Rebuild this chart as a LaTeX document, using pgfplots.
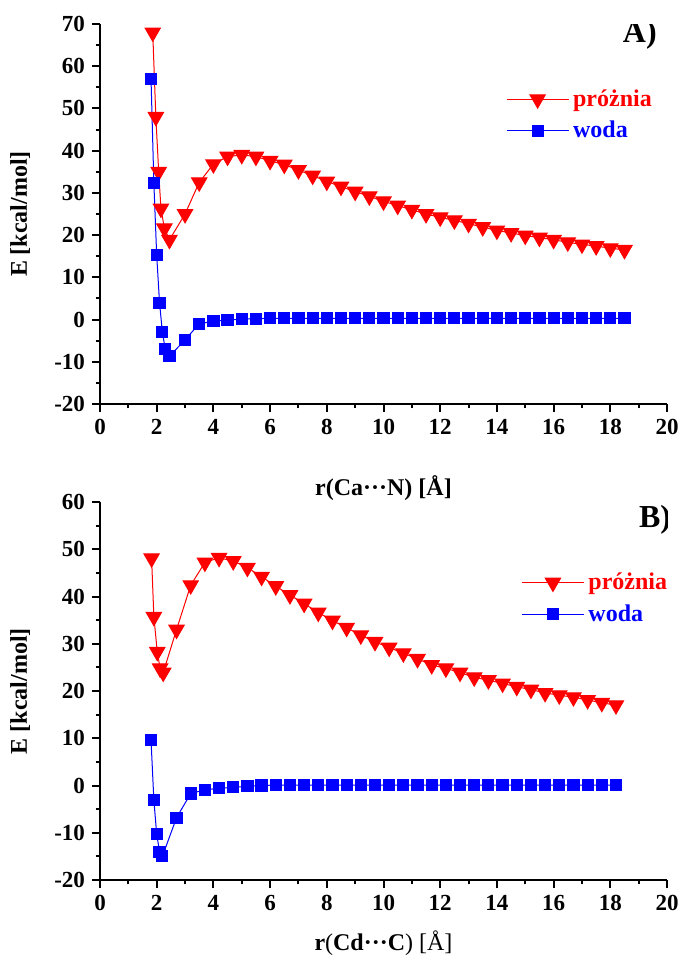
\documentclass[border=0pt]{standalone}
\usepackage{fontspec}
\setmainfont{Liberation Serif}
\usepackage{pgfplots}
\pgfplotsset{compat=1.18}

\pgfplotsset{
  panel/.style={
    scale only axis, width=283.5pt,
    xmin=0, xmax=20, ymin=-20,
    axis x line*=bottom, axis y line*=left,
    axis line style={line width=1.1pt},
    tick align=outside,
    major tick length=4pt, minor tick length=2.2pt,
    every tick/.style={line width=1pt, black},
    xtick distance=2, minor x tick num=1,
    ytick distance=10, minor y tick num=1,
    tick label style={font=\fontsize{11.5}{13}\selectfont\bfseries},
    /pgf/number format/assume math mode=true,
    label style={font=\fontsize{12}{14}\selectfont\bfseries},
    ylabel={E [kcal/mol]},
    ylabel style={at={(rel axis cs:-0.141,0.5)}, anchor=center},
    legend style={draw=none, fill=none, font=\fontsize{12}{14}\selectfont\bfseries,
      row sep=2pt, anchor=north west},
    legend cell align=left,
    legend image code/.code={\draw[mark repeat=2,mark phase=2]
      plot coordinates {(0pt,0pt)(15.5pt,0pt)(31pt,0pt)};},
  },
  vac/.style={red, line width=0.5pt, mark=triangle*, mark size=4.4pt,
    mark options={rotate=180, solid}},
  wat/.style={blue, line width=0.5pt, mark=square*, mark size=2.8pt},
}

\begin{document}
\begin{tikzpicture}
\useasboundingbox (-50pt,-279.5pt) rectangle (294pt,202pt);

% A) Ca...N
\begin{axis}[panel, at={(0,0)}, height=190pt, ymax=70,
  xlabel={r(Ca···N) [Å]},
  xlabel style={at={(rel axis cs:0.5,0)}, anchor=center, yshift=-42pt},
  legend style={at={(rel axis cs:0.705,0.85)}}]
\addplot[vac] coordinates {
(1.86,68) (1.97,48) (2.07,35) (2.15,26.3) (2.27,21.6) (2.45,18.9)
(3.0,25.0) (3.5,32.5) (4.0,36.8) (4.5,38.6) (5.0,39.0) (5.5,38.6)
(6.0,37.6) (6.5,36.7) (7.0,35.4) (7.5,34.1) (8.0,32.7) (8.5,31.5)
(9.0,30.3) (9.5,29.2) (10.0,28.0) (10.5,27.0) (11.0,26.0) (11.5,25.0)
(12.0,24.2) (12.5,23.5) (13.0,22.7) (13.5,21.9) (14.0,21.1) (14.5,20.5)
(15.0,19.9) (15.5,19.4) (16.0,18.9) (16.5,18.3) (17.0,17.8) (17.5,17.4)
(18.0,16.9) (18.5,16.5)
};
\addlegendentry{\textcolor{red}{próżnia}}
\addplot[wat] coordinates {
(1.8,57) (1.9,32.3) (2.0,15.2) (2.1,4.0) (2.2,-3.0) (2.3,-6.9) (2.45,-8.7)
(3.0,-4.8) (3.5,-1.0) (4.0,-0.4) (4.5,-0.1) (5.0,0.1) (5.5,0.2)
(6.0,0.3) (6.5,0.3) (7.0,0.3) (7.5,0.3) (8.0,0.3) (8.5,0.3) (9.0,0.3)
(9.5,0.3) (10.0,0.3) (10.5,0.3) (11.0,0.3) (11.5,0.3) (12.0,0.3)
(12.5,0.3) (13.0,0.3) (13.5,0.3) (14.0,0.3) (14.5,0.3) (15.0,0.3)
(15.5,0.3) (16.0,0.3) (16.5,0.3) (17.0,0.3) (17.5,0.3) (18.0,0.3) (18.5,0.3)
};
\addlegendentry{\textcolor{blue}{woda}}
\node[font=\fontsize{16}{18}\selectfont\bfseries] at (rel axis cs:0.952,0.971) {A)};
\end{axis}

% B) Cd...C
\begin{axis}[panel, at={(0,-238pt)}, height=189pt, ymax=60,
  xlabel={r\textmd{(}Cd···C\textmd{) [Å]}},
  xlabel style={at={(rel axis cs:0.5,0)}, anchor=center, yshift=-31.5pt},
  legend style={at={(rel axis cs:0.732,0.835)}}]
\addplot[vac] coordinates {
(1.82,48.1) (1.9,35.7) (2.02,28.3) (2.12,24.8) (2.23,23.9)
(2.7,33.0) (3.2,42.4) (3.7,47.2) (4.2,48.2) (4.7,47.5) (5.2,46.1)
(5.7,44.2) (6.2,42.2) (6.7,40.3) (7.2,38.5) (7.7,36.6) (8.2,34.9)
(8.7,33.4) (9.2,31.8) (9.7,30.4) (10.2,29.2) (10.7,28.0) (11.2,26.8)
(11.7,25.5) (12.2,24.8) (12.7,23.9) (13.2,22.9) (13.7,22.3) (14.2,21.6)
(14.7,20.9) (15.2,20.3) (15.7,19.6) (16.2,19.1) (16.7,18.7) (17.2,18.1)
(17.7,17.5) (18.2,17.0)
};
\addlegendentry{\textcolor{red}{próżnia}}
\addplot[wat] coordinates {
(1.8,9.6) (1.9,-3.1) (2.0,-10.3) (2.1,-14.0) (2.2,-15.0)
(2.7,-6.8) (3.2,-1.7) (3.7,-0.9) (4.2,-0.6) (4.7,-0.4) (5.2,-0.15)
(5.7,0.0) (6.2,0.1) (6.7,0.1) (7.2,0.1) (7.7,0.1) (8.2,0.1) (8.7,0.1)
(9.2,0.1) (9.7,0.1) (10.2,0.1) (10.7,0.1) (11.2,0.1) (11.7,0.1)
(12.2,0.1) (12.7,0.1) (13.2,0.1) (13.7,0.1) (14.2,0.1) (14.7,0.1)
(15.2,0.1) (15.7,0.1) (16.2,0.1) (16.7,0.1) (17.2,0.1) (17.7,0.1) (18.2,0.1)
};
\addlegendentry{\textcolor{blue}{woda}}
\node[font=\fontsize{16}{18}\selectfont\bfseries] at (rel axis cs:0.979,0.952) {B)};
\end{axis}
\end{tikzpicture}
\end{document}
